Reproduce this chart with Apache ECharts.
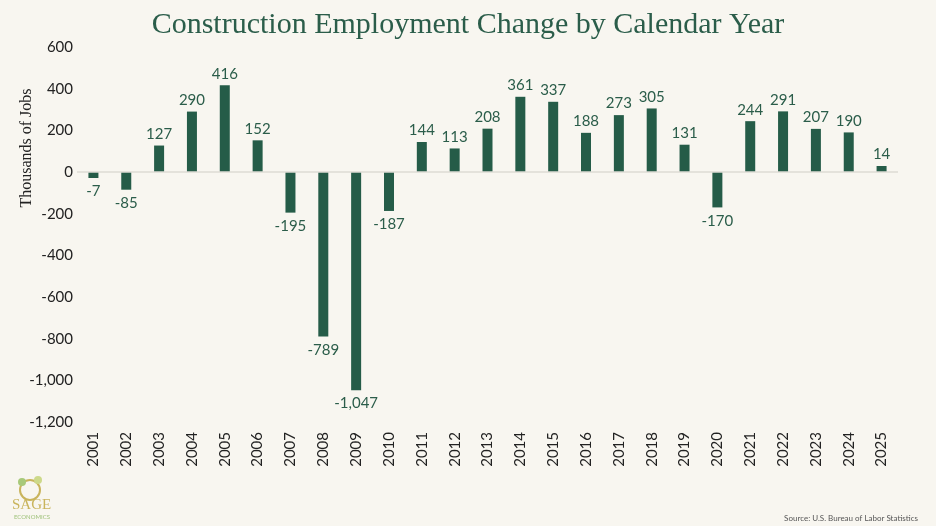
<!DOCTYPE html>
<html>
<head>
<meta charset="utf-8">
<script src="https://cdn.jsdelivr.net/npm/echarts@6/dist/echarts.min.js"></script>
<style>
html,body{margin:0;padding:0;background:#f8f6f0;}
#chart{width:936px;height:526px;}
</style>
</head>
<body>
<div id="chart"></div>
<script>
const years = ['2001','2002','2003','2004','2005','2006','2007','2008','2009','2010','2011','2012','2013','2014','2015','2016','2017','2018','2019','2020','2021','2022','2023','2024','2025'];
const changes = [-7,-85,127,290,416,152,-195,-789,-1047,-187,144,113,208,361,337,188,273,305,131,-170,244,291,207,190,14];
const titleText = 'Construction Employment Change by Calendar Year';
const yAxisName = 'Thousands of Jobs';
const sourceText = 'Source: U.S. Bureau of Labor Statistics';

const barColor = '#255c48';
const fmt = v => (v < 0 ? '-' : '') + Math.abs(v).toLocaleString('en-US');

const chart = echarts.init(document.getElementById('chart'));
chart.setOption({
  backgroundColor: '#f8f6f0',
  animation: false,
  title: {
    text: titleText,
    left: 'center',
    top: 5,
    textStyle: {fontFamily: 'Liberation Serif', fontWeight: 'normal', fontSize: 30, color: '#2b5d4a'}
  },
  grid: {left: 77, right: 38, top: 47, bottom: 104},
  xAxis: {
    type: 'category',
    data: years,
    axisLine: {show: false},
    axisTick: {show: false},
    axisLabel: {rotate: 90, margin: 10, fontFamily: 'Lato', fontSize: 15, color: '#222'}
  },
  yAxis: {
    type: 'value',
    min: -1200, max: 600, interval: 200,
    axisLine: {show: false},
    axisTick: {show: false},
    splitLine: {show: false},
    axisLabel: {fontFamily: 'Lato', fontSize: 15, color: '#222', margin: 4, formatter: fmt}
  },
  series: [{
    type: 'bar',
    data: changes.map(v => ({
      value: v,
      label: {position: v < 0 ? 'bottom' : 'top', distance: v < 0 ? 6 : 4}
    })),
    barWidth: 10,
    barMinHeight: 6,
    itemStyle: {color: barColor},
    label: {show: true, fontFamily: 'Lato', fontSize: 15, color: '#2b5d4a', formatter: p => fmt(p.value)},
    markLine: {
      silent: true,
      symbol: 'none',
      label: {show: false},
      lineStyle: {color: '#dedbd4', width: 1.5, type: 'solid'},
      data: [{yAxis: 0}]
    }
  }],
  graphic: [
    {type: 'text', x: 27, y: 148, rotation: Math.PI / 2,
     style: {text: yAxisName, fontFamily: 'Liberation Serif', fontSize: 16, fill: '#222', align: 'center', verticalAlign: 'middle'}},
    {type: 'text', right: 18, bottom: 4, style: {text: sourceText, fontFamily: 'Lato', fontSize: 8, fill: '#555'}},
    {type: 'circle', shape: {cx: 30, cy: 490, r: 10}, style: {fill: 'none', stroke: '#c9b45c', lineWidth: 2}},
    {type: 'circle', shape: {cx: 22, cy: 482, r: 4}, style: {fill: '#a8c97a'}},
    {type: 'circle', shape: {cx: 38, cy: 480, r: 4}, style: {fill: '#cdd98a'}},
    {type: 'text', left: 12, top: 498, style: {text: 'SAGE', fontFamily: 'Liberation Serif', fontSize: 15, fill: '#c9b45c'}},
    {type: 'text', left: 14, top: 514, style: {text: 'ECONOMICS', fontFamily: 'Lato', fontSize: 6, fill: '#9fc27a'}}
  ]
});
</script>
</body>
</html>
